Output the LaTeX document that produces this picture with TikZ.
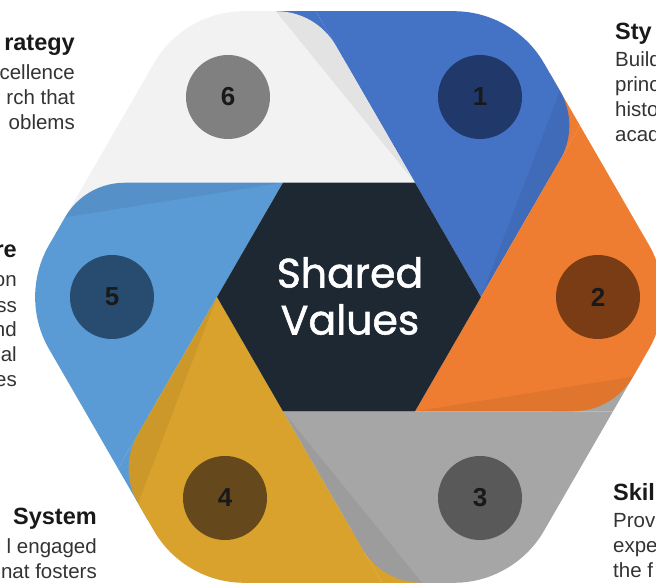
\documentclass[tikz,border=0pt]{standalone}
\usepackage{fontspec}
\setmainfont{Liberation Sans}
\newfontfamily\hubfont[FakeBold=1.3]{Poppins}
\usetikzlibrary{calc}

\definecolor{segone}{HTML}{4472C4}
\definecolor{segtwo}{HTML}{EE7D31}
\definecolor{segthree}{HTML}{A6A6A6}
\definecolor{segfour}{HTML}{D8A22C}
\definecolor{segfive}{HTML}{5B9BD5}
\definecolor{segsix}{HTML}{F2F2F2}
\definecolor{dotone}{HTML}{20396A}
\definecolor{dottwo}{HTML}{7A3C14}
\definecolor{dotthree}{HTML}{595959}
\definecolor{dotfour}{HTML}{65491C}
\definecolor{dotfive}{HTML}{284C70}
\definecolor{dotsix}{HTML}{808080}
\definecolor{hubfill}{HTML}{1E2833}

\newcommand{\headtxt}[1]{{\fontsize{23.5}{25}\selectfont\bfseries\color{black!90}#1}}

\begin{document}
\begin{tikzpicture}[x=1pt, y=1pt,
  numdot/.style={circle, minimum size=84pt, inner sep=0pt, font=\fontsize{26}{26}\selectfont\bfseries, text=black!90},
  sidetext/.style={inner sep=0pt, text=black!80, font=\fontsize{20.5}{25}\selectfont}]

  \useasboundingbox (-349,-289) rectangle (307,297);

  \foreach \i in {0,...,5} {
    \coordinate (v\i) at (60*\i:132);
    \coordinate (o\i) at (60*\i:330);
    \coordinate (q\i) at (60*\i+36.6:287.7);
  }

  % colour left under each rounded tip
  \foreach \k/\col in {0/segtwo, 1/segone, 2/segsix, 3/segfive, 4/segfour, 5/segthree} {
    \pgfmathtruncatemacro\j{mod(\k+1,6)}
    \fill[\col] (q\k) -- ($(q\k)!60pt!(o\j)$) -- ($(q\k)!60pt!(v\k)$) -- cycle;
  }

  % the six blades
  \foreach \k/\col in {0/segone, 1/segsix, 2/segfive, 3/segfour, 4/segthree, 5/segtwo} {
    \pgfmathtruncatemacro\j{mod(\k+1,6)}
    \fill[\col] (v\k) -- (v\j) -- (q\j) -- ($(o\j)!60pt!(q\j)$)
      .. controls ($(o\j)!23pt!(q\j)$) and ($(o\j)!23pt!(q\k)$) .. ($(o\j)!60pt!(q\k)$)
      -- ($(q\k)!40pt!(o\j)$)
      .. controls ($(q\k)!15pt!(o\j)$) and ($(q\k)!15pt!(v\k)$) .. ($(q\k)!40pt!(v\k)$) -- cycle;
    \fill[black, opacity=0.06] (v\k) -- ($(q\k)!40pt!(v\k)$)
      .. controls ($(q\k)!15pt!(v\k)$) and ($(q\k)!15pt!(o\j)$) .. ($(q\k)!40pt!(o\j)$) -- cycle;
  }

  \fill[hubfill] (v0) -- (v1) -- (v2) -- (v3) -- (v4) -- (v5) -- cycle;
  \node[text=white, align=center, font=\hubfont\fontsize{41}{47}\selectfont] (hub) at (1,1) {Shared\\Values};

  \node[numdot, fill=dotone] (n1) at (131,200) {1};
  \node[numdot, fill=dottwo] (n2) at (249,0) {2};
  \node[numdot, fill=dotthree] (n3) at (131,-201) {3};
  \node[numdot, fill=dotfour] (n4) at (-124,-201) {4};
  \node[numdot, fill=dotfive] (n5) at (-237,0) {5};
  \node[numdot, fill=dotsix] (n6) at (-121,200) {6};

  \node[sidetext, align=right, anchor=base east] (strategy) at (-274,167)
    {\headtxt{rategy}\\[4pt]cellence\\rch that\\oblems};
  \node[sidetext, align=right, anchor=base east] (structure) at (-332,-90)
    {\headtxt{re}\\[4pt]on\\ss\\nd\\al\\es};
  \node[sidetext, align=right, anchor=base east] (systems) at (-252,-281)
    {\headtxt{System}\\[4pt]l engaged\\nat fosters};
  \node[sidetext, align=left, anchor=base west] (style) at (266,155)
    {\headtxt{Sty}\\[2pt]Build\\princ\\histo\\acad};
  \node[sidetext, align=left, anchor=base west] (skills) at (264,-280)
    {\headtxt{Skil}\\[2pt]Prov\\expe\\the f};
\end{tikzpicture}
\end{document}
